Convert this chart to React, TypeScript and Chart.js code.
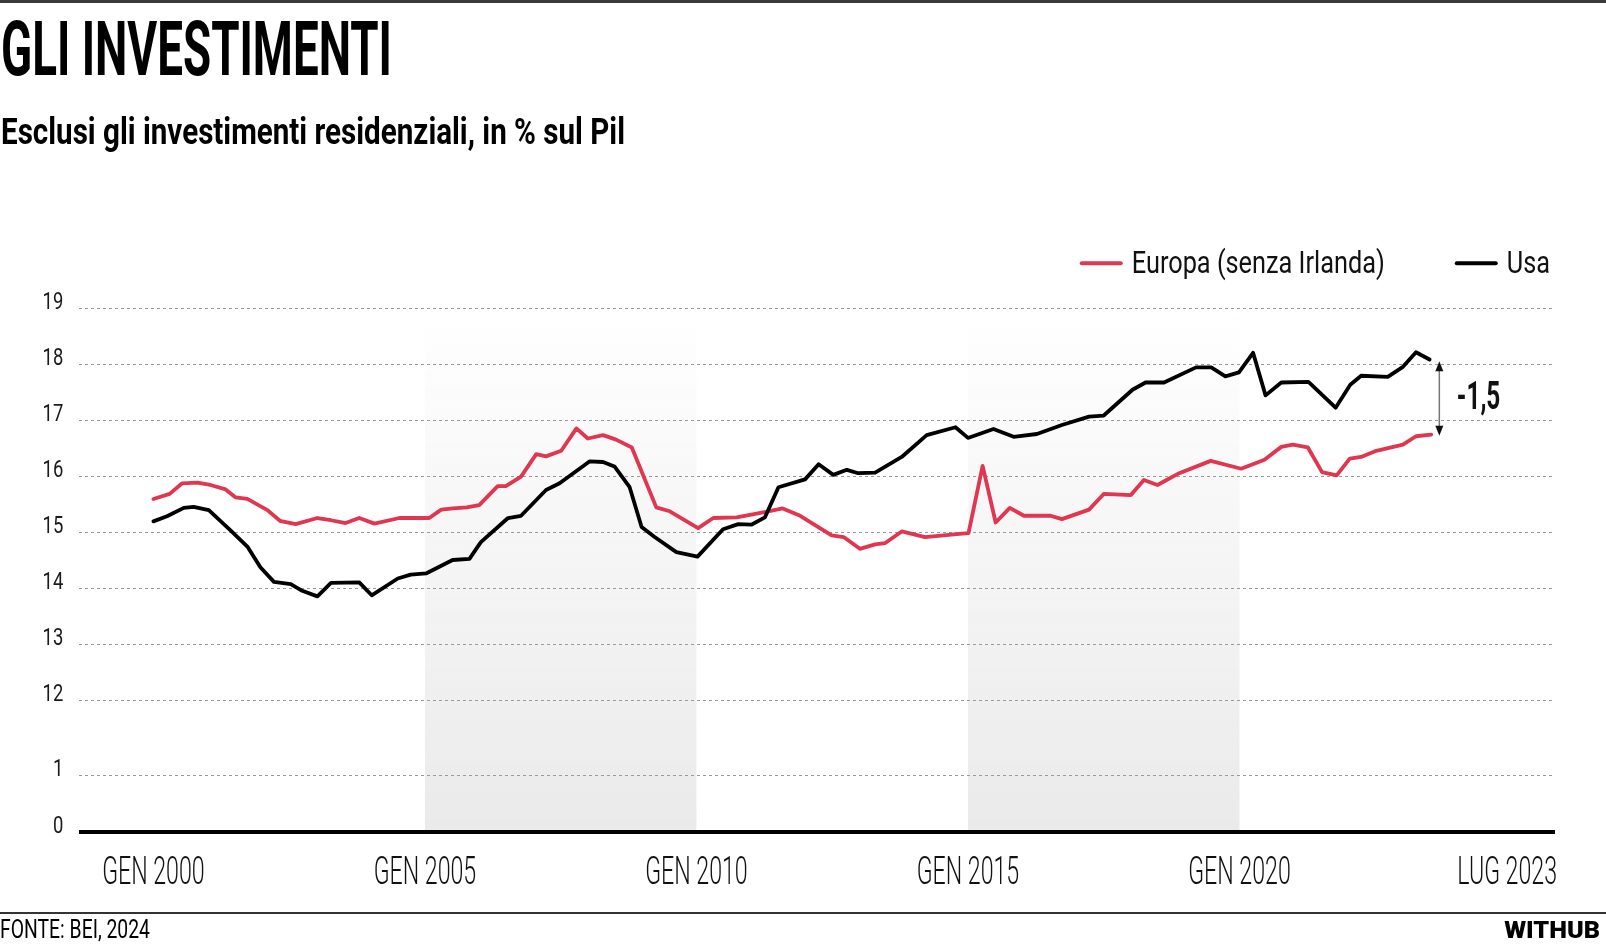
import React, { useEffect, useRef } from 'react';
import { Chart, registerables, LinearScale } from 'chart.js';

// ---------------- DATA ----------------
const europaDates = [
  2000.0, 2000.3, 2000.53, 2000.81, 2001.05, 2001.33, 2001.51, 2001.73, 2002.1, 2002.33,
  2002.62, 2003.02, 2003.27, 2003.54, 2003.79, 2004.07, 2004.53, 2005.08, 2005.3, 2005.52,
  2005.77, 2006.0, 2006.34, 2006.49, 2006.77, 2007.05, 2007.23, 2007.51, 2007.79, 2008.0,
  2008.28, 2008.52, 2008.81, 2009.26, 2009.51, 2010.03, 2010.31, 2010.74, 2011.23, 2011.59,
  2011.91, 2012.49, 2012.71, 2013.01, 2013.29, 2013.47, 2013.78, 2014.21, 2014.89, 2015.01,
  2015.27, 2015.51, 2015.77, 2016.03, 2016.52, 2016.73, 2017.23, 2017.5, 2018.0, 2018.24,
  2018.49, 2018.89, 2019.47, 2020.03, 2020.46, 2020.77, 2020.98, 2021.26, 2021.52, 2021.79,
  2022.03, 2022.24, 2022.52, 2023.01, 2023.25, 2023.53,
];
const europaValues = [
  15.59, 15.68, 15.87, 15.88, 15.84, 15.76, 15.62, 15.59, 15.39, 15.2,
  15.14, 15.25, 15.21, 15.16, 15.25, 15.15, 15.25, 15.25, 15.4, 15.42,
  15.44, 15.48, 15.82, 15.82, 15.99, 16.39, 16.35, 16.45, 16.85, 16.67,
  16.73, 16.65, 16.51, 15.44, 15.37, 15.07, 15.25, 15.26, 15.35, 15.42,
  15.29, 14.94, 14.91, 14.7, 14.78, 14.8, 15.01, 14.91, 14.97, 14.98,
  16.18, 15.17, 15.43, 15.29, 15.29, 15.23, 15.4, 15.68, 15.66, 15.93,
  15.84, 16.05, 16.27, 16.13, 16.29, 16.52, 16.56, 16.51, 16.07, 16.01,
  16.31, 16.34, 16.45, 16.56, 16.71, 16.74,
];
const usaDates = [
  2000.0, 2000.25, 2000.56, 2000.74, 2001.02, 2001.42, 2001.73, 2001.97, 2002.22, 2002.53,
  2002.74, 2003.02, 2003.27, 2003.79, 2004.02, 2004.5, 2004.74, 2005.02, 2005.51, 2005.82,
  2006.03, 2006.53, 2006.77, 2007.23, 2007.48, 2008.03, 2008.28, 2008.49, 2008.77, 2008.99,
  2009.23, 2009.63, 2010.02, 2010.49, 2010.77, 2011.01, 2011.26, 2011.51, 2012.0, 2012.25,
  2012.52, 2012.77, 2012.98, 2013.29, 2013.78, 2014.24, 2014.77, 2015.0, 2015.47, 2015.84,
  2016.27, 2016.73, 2017.23, 2017.5, 2018.03, 2018.27, 2018.61, 2019.2, 2019.48, 2019.74,
  2019.99, 2020.25, 2020.48, 2020.77, 2021.27, 2021.77, 2022.04, 2022.24, 2022.73, 2023.01,
  2023.25, 2023.5,
];
const usaValues = [
  15.19, 15.28, 15.43, 15.45, 15.39, 15.03, 14.74, 14.37, 14.11, 14.07,
  13.95, 13.85, 14.09, 14.1, 13.87, 14.17, 14.24, 14.26, 14.5, 14.52,
  14.82, 15.25, 15.29, 15.75, 15.87, 16.26, 16.25, 16.17, 15.8, 15.09,
  14.91, 14.64, 14.56, 15.05, 15.14, 15.13, 15.26, 15.8, 15.94, 16.21,
  16.02, 16.11, 16.05, 16.06, 16.34, 16.73, 16.87, 16.68, 16.84, 16.7,
  16.75, 16.91, 17.06, 17.08, 17.54, 17.67, 17.67, 17.94, 17.94, 17.78,
  17.85, 18.2, 17.44, 17.67, 17.68, 17.22, 17.63, 17.79, 17.77, 17.95,
  18.21, 18.08,
];
const seriesLabels = ['Europa (senza Irlanda)', 'Usa'];
const seriesColors = ['#e0364f', '#000000'];

const xTickValues = [2000, 2005, 2010, 2015, 2020, 2023.5];
const xTickLabels = ['GEN 2000', 'GEN 2005', 'GEN 2010', 'GEN 2015', 'GEN 2020', 'LUG 2023'];
const xMin = 1998.63;
const xMax = 2025.81;
const yTickValues = [0, 1, 12, 13, 14, 15, 16, 17, 18, 19];
const yTop = 19;

const shadedFrom = [2005, 2015];
const shadedTo = [2010, 2020];

const gapX = 2023.68;
const gapTop = 18.05;
const gapBottom = 16.72;
const gapLabel = '-1,5';

// ---------------- BROKEN AXIS ----------------
const BREAK_LOW = 1;
const BREAK_HIGH = 12;
const BREAK_SPAN = 1.357; // axis units used by the 1..12 gap

function toAxis(v: number): number {
  if (v <= BREAK_LOW) return v;
  if (v >= BREAK_HIGH) return v - BREAK_HIGH + BREAK_LOW + BREAK_SPAN;
  return BREAK_LOW + ((v - BREAK_LOW) / (BREAK_HIGH - BREAK_LOW)) * BREAK_SPAN;
}
function fromAxis(m: number): number {
  if (m <= BREAK_LOW) return m;
  if (m >= BREAK_LOW + BREAK_SPAN) return m - BREAK_LOW - BREAK_SPAN + BREAK_HIGH;
  return BREAK_LOW + ((m - BREAK_LOW) / BREAK_SPAN) * (BREAK_HIGH - BREAK_LOW);
}

class BrokenLinearScale extends LinearScale {
  static id = 'brokenLinear';
  getPixelForValue(value: any, index?: number) {
    return super.getPixelForValue(toAxis(value), index);
  }
  getValueForPixel(pixel: number) {
    return fromAxis(super.getValueForPixel(pixel));
  }
}

Chart.register(...registerables, BrokenLinearScale);

// ---------------- TEXT HELPERS ----------------
const FAM = "Roboto, 'Liberation Sans', 'DejaVu Sans', sans-serif";
const CAP = 0.711;

function drawSqueezed(ctx: CanvasRenderingContext2D, text: string, x: number, y: number, font: string, k: number, align: string, color: string) {
  ctx.save();
  ctx.font = font;
  ctx.fillStyle = color;
  ctx.textAlign = 'left';
  ctx.textBaseline = 'alphabetic';
  const w = ctx.measureText(text).width * k;
  const x0 = align === 'center' ? x - w / 2 : align === 'right' ? x - w : x;
  ctx.translate(x0, y);
  ctx.scale(k, 1);
  ctx.fillText(text, 0, 0);
  ctx.restore();
  return w;
}
function squeeze(ctx: CanvasRenderingContext2D, ref: string, font: string, target: number) {
  ctx.save();
  ctx.font = font;
  const w = ctx.measureText(ref).width;
  ctx.restore();
  return target / w;
}

let measureCanvas: HTMLCanvasElement | null = null;
function textWidth(text: string, font: string) {
  if (!measureCanvas) measureCanvas = document.createElement('canvas');
  const c = measureCanvas.getContext('2d')!;
  c.font = font;
  return c.measureText(text).width;
}

function Squeezed(props: { text: string; x: number; capTop: number; capHeight: number; width: number; weight: number; color?: string; align?: string }) {
  const { text, x, capTop, capHeight, width, weight, color = '#000', align = 'left' } = props;
  const fs = capHeight / CAP;
  const font = `${weight} ${fs}px ${FAM}`;
  const k = width / textWidth(text, font);
  const top = capTop - (0.842 - CAP) * fs;
  const style: any = {
    position: 'absolute',
    top,
    font,
    lineHeight: `${fs}px`,
    whiteSpace: 'nowrap',
    color,
    transform: `scaleX(${k})`,
    transformOrigin: align === 'right' ? 'right top' : 'left top',
  };
  if (align === 'right') style.right = 1606 - x;
  else style.left = x;
  return <div style={style}>{text}</div>;
}

// ---------------- PLUGINS ----------------
const bandsPlugin = {
  id: 'bands',
  beforeDraw(chart: any) {
    const { ctx, chartArea, scales } = chart;
    const xs = scales.x;
    ctx.save();
    const g = ctx.createLinearGradient(0, chartArea.top, 0, chartArea.bottom);
    g.addColorStop(0, 'rgba(234,234,234,0)');
    g.addColorStop(1, 'rgba(234,234,234,1)');
    ctx.fillStyle = g;
    shadedFrom.forEach((f, i) => {
      const x0 = xs.getPixelForValue(f);
      const x1 = xs.getPixelForValue(shadedTo[i]);
      ctx.fillRect(x0, chartArea.top, x1 - x0, chartArea.bottom - chartArea.top);
    });
    ctx.restore();
  },
};

const decorPlugin = {
  id: 'decor',
  afterDraw(chart: any) {
    const { ctx, chartArea, scales } = chart;
    const xs = scales.x;
    const ys = scales.y;

    // y tick labels
    const yFont = `400 ${16.7 / CAP}px ${FAM}`;
    const ky = squeeze(ctx, '19', yFont, 20.7);
    yTickValues.forEach((v) => {
      const py = ys.getPixelForValue(v);
      drawSqueezed(ctx, String(v), chartArea.left - 15.7, py + 0.5, yFont, ky, 'right', '#1a1a1a');
    });

    // x tick labels
    const xFont = `300 ${27 / CAP}px ${FAM}`;
    const kx = squeeze(ctx, xTickLabels[0], xFont, 102.5);
    xTickValues.forEach((v, i) => {
      const last = i === xTickValues.length - 1;
      const px = last ? chartArea.right + 2 : xs.getPixelForValue(v);
      drawSqueezed(ctx, xTickLabels[i], px, chartArea.bottom + 52, xFont, kx, last ? 'right' : 'center', '#111');
    });

    // legend
    const lFont = `400 ${22.7 / CAP}px ${FAM}`;
    const kl = squeeze(ctx, seriesLabels[0], lFont, 253);
    let right = chartArea.right - 5;
    const ds = chart.data.datasets;
    for (let i = ds.length - 1; i >= 0; i--) {
      ctx.save();
      ctx.font = lFont;
      const w = ctx.measureText(ds[i].label).width * kl;
      ctx.restore();
      const tx = right - w;
      drawSqueezed(ctx, ds[i].label, tx, chartArea.top - 34.7, lFont, kl, 'left', '#111');
      const lx1 = tx - 11;
      const lx0 = lx1 - 39;
      ctx.save();
      ctx.strokeStyle = ds[i].borderColor;
      ctx.lineWidth = 4;
      ctx.lineCap = 'round';
      ctx.beginPath();
      ctx.moveTo(lx0, chartArea.top - 44.7);
      ctx.lineTo(lx1, chartArea.top - 44.7);
      ctx.stroke();
      ctx.restore();
      right = lx0 - 72;
    }

    // gap annotation
    const ax = xs.getPixelForValue(gapX);
    const ay0 = ys.getPixelForValue(gapTop);
    const ay1 = ys.getPixelForValue(gapBottom);
    ctx.save();
    ctx.strokeStyle = '#777';
    ctx.lineWidth = 1.5;
    ctx.beginPath();
    ctx.moveTo(ax, ay0 + 6);
    ctx.lineTo(ax, ay1 - 6);
    ctx.stroke();
    ctx.fillStyle = '#111';
    ctx.beginPath();
    ctx.moveTo(ax, ay0);
    ctx.lineTo(ax - 4, ay0 + 10);
    ctx.lineTo(ax + 4, ay0 + 10);
    ctx.closePath();
    ctx.fill();
    ctx.beginPath();
    ctx.moveTo(ax, ay1);
    ctx.lineTo(ax - 4, ay1 - 10);
    ctx.lineTo(ax + 4, ay1 - 10);
    ctx.closePath();
    ctx.fill();
    ctx.restore();
    const aFont = `700 ${27 / CAP}px ${FAM}`;
    const ka = squeeze(ctx, gapLabel, aFont, 43.5);
    drawSqueezed(ctx, gapLabel, ax + 17.5, (ay0 + ay1) / 2 + 11, aFont, ka, 'left', '#111');
  },
};

// ---------------- COMPONENT ----------------
function LineChart() {
  const ref = useRef<HTMLCanvasElement | null>(null);
  useEffect(() => {
    if (!ref.current) return;
    const makeData = (dates: number[], values: number[]) => dates.map((d, i) => ({ x: d, y: values[i] }));
    const chart = new Chart(ref.current, {
      type: 'line',
      data: {
        datasets: [
          {
            label: seriesLabels[0],
            data: makeData(europaDates, europaValues),
            borderColor: seriesColors[0],
            borderWidth: 3.8,
            pointRadius: 0,
            tension: 0,
            borderJoinStyle: 'round',
            borderCapStyle: 'round',
            order: 1,
          },
          {
            label: seriesLabels[1],
            data: makeData(usaDates, usaValues),
            borderColor: seriesColors[1],
            borderWidth: 3.8,
            pointRadius: 0,
            tension: 0,
            borderJoinStyle: 'round',
            borderCapStyle: 'round',
            order: 0,
          },
        ],
      },
      options: {
        animation: false,
        responsive: true,
        maintainAspectRatio: false,
        events: [],
        layout: { padding: { left: 79, right: 51, top: 308, bottom: 113 } },
        plugins: { legend: { display: false }, tooltip: { enabled: false } },
        scales: {
          x: { type: 'linear', min: xMin, max: xMax, display: false },
          y: {
            type: 'brokenLinear',
            min: 0,
            max: toAxis(yTop),
            afterBuildTicks: (s: any) => {
              s.ticks = yTickValues.map((v) => ({ value: v }));
            },
            ticks: { display: false },
            grid: {
              drawTicks: false,
              color: (c: any) => (c.tick && c.tick.value === 0 ? '#000' : '#9a9a9a'),
              lineWidth: (c: any) => (c.tick && c.tick.value === 0 ? 4 : 1),
            },
            border: {
              display: false,
              dash: (c: any) => (c.tick && c.tick.value === 0 ? [] : [3, 3]),
            },
          } as any,
        },
      } as any,
      plugins: [bandsPlugin, decorPlugin],
    });
    return () => chart.destroy();
  }, []);
  return (
    <div style={{ position: 'absolute', left: 0, top: 0, width: 1606, height: 945 }}>
      <canvas ref={ref} />
    </div>
  );
}

export default function App() {
  return (
    <div style={{ position: 'fixed', left: 0, top: 0, width: 1606, height: 945, background: '#fff', overflow: 'hidden' }}>
      <LineChart />
      <div style={{ position: 'absolute', left: 0, top: 0, width: 1606, height: 2.5, background: '#3a3a3a' }} />
      <Squeezed text="GLI INVESTIMENTI" x={1} capTop={22} capHeight={54} width={391} weight={700} />
      <Squeezed text="Esclusi gli investimenti residenziali, in % sul Pil" x={1} capTop={118} capHeight={26.5} width={624} weight={700} />
      <div style={{ position: 'absolute', left: 0, top: 912, width: 1606, height: 2, background: '#333' }} />
      <Squeezed text="FONTE: BEI, 2024" x={0} capTop={919} capHeight={18.5} width={150} weight={400} />
      <Squeezed text="WITHUB" x={1600} capTop={922} capHeight={16.5} width={96} weight={900} align="right" />
    </div>
  );
}
